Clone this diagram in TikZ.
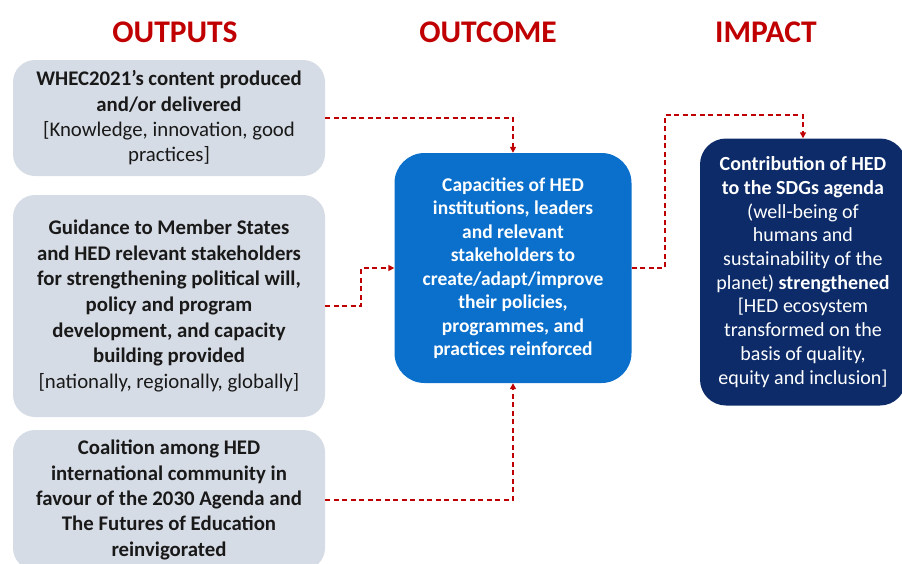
\documentclass[tikz,border=0pt]{standalone}
\usepackage{fontspec}
\setmainfont{Carlito}
\usetikzlibrary{positioning,arrows.meta}
\definecolor{hedred}{HTML}{C00000}
\definecolor{outgrey}{HTML}{D6DCE5}
\definecolor{midblue}{HTML}{0A70CC}
\definecolor{deepnavy}{HTML}{0C2B68}

\begin{document}
\begin{tikzpicture}[x=1pt,y=-1pt,
  head/.style={text=hedred,font=\fontsize{31.5}{36}\selectfont\bfseries},
  box/.style={rounded corners=22pt,align=center,inner sep=0pt,font=\fontsize{20.8}{25.3}\selectfont},
  link/.style={draw=hedred,line width=1.8pt,dash pattern=on 5pt off 3.5pt,-{Triangle[length=6pt,width=6pt]}}]
\useasboundingbox (0,0) rectangle (902,563);
\node[head] (hout) at (175,32) {OUTPUTS};
\node[head] (hoc) at (488,32) {OUTCOME};
\node[head] (himp) at (766,32) {IMPACT};
\node[box,fill=outgrey,text=black!90,minimum width=312pt,minimum height=116pt] (out1) at (169,118)
  {\textbf{WHEC2021’s content produced}\\\textbf{and/or delivered}\\{[}Knowledge, innovation, good\\practices]};
\node[box,fill=outgrey,text=black!90,font=\fontsize{20.8}{25.7}\selectfont,minimum width=312pt,minimum height=222pt] (out2) at (169,306)
  {\textbf{Guidance to Member States}\\\textbf{and HED relevant stakeholders}\\\textbf{for strengthening political will,}\\\textbf{policy and program}\\\textbf{development, and capacity}\\\textbf{building provided}\\{[}nationally, regionally, globally]};
\node[box,fill=outgrey,text=black!90,minimum width=312pt,minimum height=140pt] (out3) at (169,500)
  {\textbf{Coalition among HED}\\\textbf{international community in}\\\textbf{favour of the 2030 Agenda and}\\\textbf{The Futures of Education}\\\textbf{reinvigorated}};
\node[box,rounded corners=30pt,fill=midblue,text=white,font=\fontsize{19.5}{23.5}\selectfont\bfseries,minimum width=237pt,minimum height=230pt] (outc) at (513,268)
  {Capacities of HED\\institutions, leaders\\and relevant\\stakeholders to\\create/adapt/improve\\their policies,\\programmes, and\\practices reinforced};
\node[box,rounded corners=26pt,fill=deepnavy,text=white,font=\fontsize{20}{23.7}\selectfont,minimum width=206pt,minimum height=267pt] (imp) at (803,272)
  {\textbf{Contribution of HED}\\\textbf{to the SDGs agenda}\\(well-being of\\humans and\\sustainability of the\\planet) \textbf{strengthened}\\{[}HED ecosystem\\transformed on the\\basis of quality,\\equity and inclusion]};
\coordinate (bend) at (665,115);
\draw[link] (out1.east) -| (outc.north);
\draw[link] (out2.east) -- ++(36,0) |- (outc.west);
\draw[link] (out3.east) -| (outc.south);
\draw[link] (outc.east) -| (bend) -| (imp.north);
\end{tikzpicture}
\end{document}
